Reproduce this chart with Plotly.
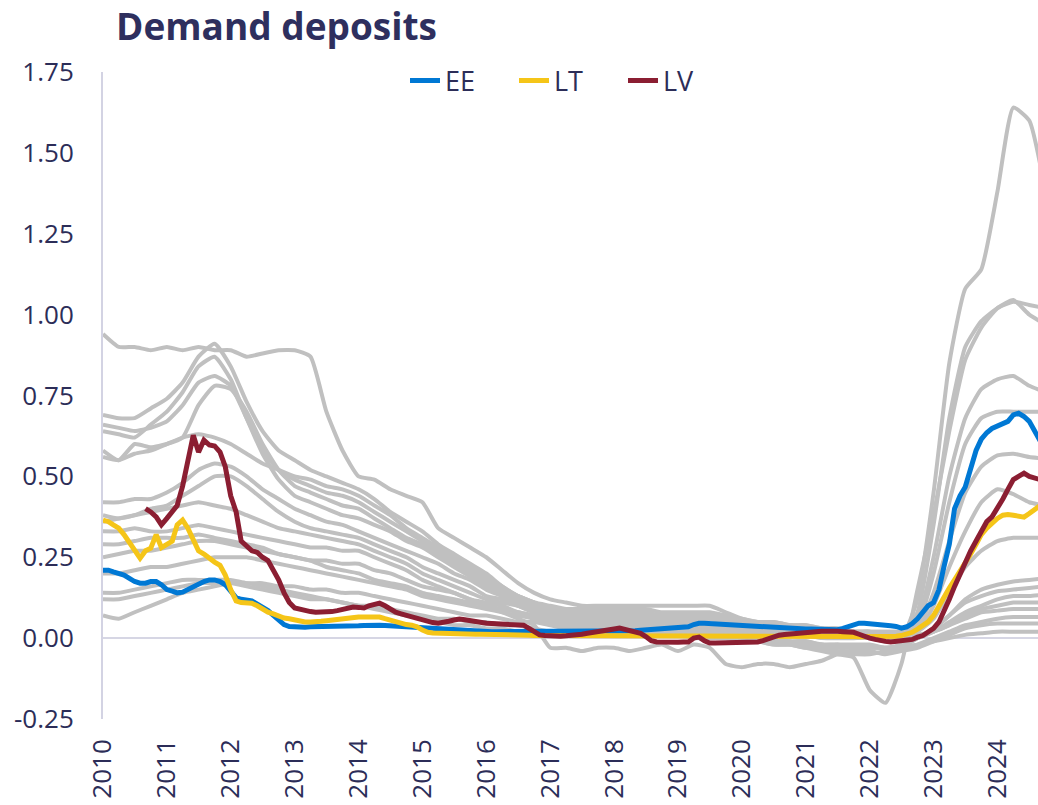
import plotly.graph_objects as go
import pandas as pd

# ---------------- data ----------------
months = pd.date_range("2010-01-01", "2024-09-01", freq="MS")      # 177 monthly points
quarters = pd.date_range("2010-01-01", periods=60, freq="QS")      # 60 quarterly points

years = list(range(2010, 2025))
year_labels = [str(y) for y in years]
y_ticks = [-0.25, 0.0, 0.25, 0.5, 0.75, 1.0, 1.25, 1.5, 1.75]
y_tick_labels = ["-0.25", "0.00", "0.25", "0.50", "0.75", "1.00", "1.25", "1.50", "1.75"]

ee = [
    .21, .21, .205, .20, .195, .185, .175, .17, .17, .175, .175, .165,
    .15, .145, .14, .142, .15, .16, .17, .175, .18, .18, .175, .165,
    .145, .125, .12, .118, .115, .105, .095, .085, .07, .055, .042, .036,
    .034, .034, .034, .035, .035, .035, .036, .036, .037, .037, .038, .038,
    .038, .039, .04, .04, .04, .039, .038, .037, .036, .035, .034, .033,
    .03, .029, .028, .027, .026, .025, .024, .023, .022, .022, .021, .021,
    .02, .02, .02, .02, .02, .02, .02, .02, .02, .02, .02, .02,
    .02, .02, .02, .02, .02, .02, .02, .02, .02, .02, .02, .02,
    .02, .021, .022, .022, .023, .024, .025, .025, .026, .027, .028, .029,
    .03, .031, .035, .042, .046, .046, .045, .044, .043, .04, .039, .038,
    .037, .036, .036, .035, .034, .033, .031, .031, .03, .03, .03, .029,
    .028, .028, .027, .027, .026, .025, .026, .03, .036, .042, .046, .046,
    .045, .043, .041, .04, .038, .036, .031, .035, .045, .06, .08, .10,
    .11, .15, .22, .29, .40, .44, .467, .52, .58, .615, .635, .648,
    .655, .66, .67, .69, .695, .685, .67, .64, .61,
]

lt = [
    .365, .36, .35, .34, .32, .295, .27, .247, .27, .278, .32, .28,
    .29, .30, .35, .365, .34, .30, .27, .26, .245, .235, .225, .195,
    .15, .115, .11, .11, .108, .10, .09, .08, .075, .068, .062, .06,
    .056, .053, .05, .05, .05, .052, .054, .056, .058, .06, .064, .065,
    .065, .065, .065, .066, .065, .06, .055, .05, .045, .042, .04, .035,
    .025, .018, .016, .015, .015, .015, .014, .014, .013, .013, .012, .012,
    .012, .011, .011, .01, .01, .01, .01, .009, .009, .008, .008, .008,
    .007, .007, .007, .006, .006, .006, .006, .006, .005, .005, .005, .005,
    .005, .005, .005, .005, .005, .005, .005, .005, .005, .005, .005, .005,
    .005, .005, .005, .005, .005, .005, .005, .005, .005, .005, .005, .005,
    .005, .005, .005, .005, .005, .005, .005, .005, .005, .005, .005, .005,
    .005, .005, .005, .005, .005, .005, .005, .005, .005, .005, .004, .004,
    .004, .004, .004, .005, .005, .006, .008, .012, .018, .028, .038, .05,
    .07, .10, .13, .155, .18, .205, .23, .26, .29, .32, .34, .355,
    .37, .38, .382, .38, .378, .374, .385, .40, .41,
]

lv = [
    None, None, None, None, None, None, None, None, .40, .39, .375, .35,
    .37, .39, .41, .47, .55, .627, .575, .612, .597, .594, .575, .53,
    .44, .39, .30, .285, .27, .265, .25, .24, .21, .18, .14, .11,
    .093, .088, .085, .082, .08, .08, .08, .082, .085, .088, .092, .096,
    .095, .093, .10, .105, .108, .10, .09, .08, .075, .07, .065, .06,
    .055, .05, .048, .046, .048, .052, .056, .059, .057, .054, .05, .048,
    .046, .045, .044, .043, .044, .044, .042, .04, .03, .018, .01, .008,
    .006, .006, .006, .007, .008, .01, .012, .015, .017, .019, .022, .025,
    .028, .031, .028, .022, .019, .015, .005, -.008, -.012, -.013, -.013, -.013,
    -.013, -.012, -.012, .0, .003, -.008, -.015, -.015, -.015, -.015, -.015, -.014,
    -.013, -.012, -.012, -.012, -.008, -.002, .005, .009, .011, .013, .015, .017,
    .018, .019, .02, .021, .022, .022, .021, .02, .019, .018, .012, .004,
    .0, -.004, -.008, -.01, -.012, -.01, -.007, -.006, -.004, .003, .008, .019,
    .03, .05, .08, .12, .16, .20, .24, .27, .30, .33, .36, .375,
    .40, .43, .46, .49, .50, .51, .50, .495, .49,
]

# other countries (quarterly)
gray_01 = [.94, .90, .90, .89, .90, .89, .90, .89, .89, .87, .88, .89, .89, .87, .70, .58,
           .50, .49, .46, .44, .42, .34, .31, .28, .25, .21, .17, .14, .12, .11, .10, .10,
           .10, .10, .10, .10, .10, .10, .10, .08, .06, .05, .05, .04, .04, .03, .02, .01,
           .00, -.01, -.01, .00, .03, .07, .12, .15, .165, .175, .18, .185]
gray_02 = [.69, .68, .68, .71, .74, .79, .87, .91, .84, .73, .64, .58, .55, .52, .50, .48,
           .46, .43, .39, .36, .33, .29, .26, .23, .20, .16, .13, .11, .09, .08, .08, .08,
           .07, .07, .07, .06, .06, .06, .06, .05, .05, .04, .04, .03, .03, .02, .02, .02,
           .01, .00, .00, .12, .45, .85, 1.08, 1.14, 1.38, 1.64, 1.60, 1.38]
gray_03 = [.66, .65, .64, .65, .67, .72, .79, .81, .78, .68, .58, .52, .49, .47, .45, .44,
           .42, .39, .36, .33, .30, .27, .24, .21, .18, .15, .13, .11, .10, .09, .09, .09,
           .09, .09, .09, .08, .08, .08, .08, .07, .06, .05, .05, .04, .04, .03, .03, .02,
           .02, .01, .01, .08, .35, .68, .90, .98, 1.02, 1.04, 1.03, 1.02]
gray_04 = [.64, .63, .62, .66, .70, .76, .84, .87, .80, .68, .57, .49, .44, .42, .40, .38,
           .37, .35, .33, .30, .28, .25, .22, .19, .16, .13, .10, .08, .07, .06, .06, .05,
           .05, .05, .04, .04, .04, .03, .03, .02, .01, .00, -.01, -.02, -.03, -.04, -.05, -.06,
           -.16, -.20, -.08, .15, .38, .64, .86, .96, 1.02, 1.045, 1.00, .97]
gray_05 = [.58, .55, .60, .59, .60, .62, .72, .78, .77, .70, .60, .52, .47, .45, .43, .41,
           .40, .37, .34, .31, .29, .26, .23, .20, .17, .14, .12, .10, .09, .09, .08, .08,
           .08, .08, .08, .07, .07, .07, .07, .06, .05, .05, .04, .04, .03, .03, .02, .02,
           .01, .01, .00, .05, .25, .50, .68, .77, .80, .81, .78, .76]
gray_06 = [.56, .55, .57, .58, .60, .62, .63, .62, .60, .57, .54, .52, .50, .49, .47, .46,
           .44, .41, .38, .34, .31, .28, .25, .22, .19, .16, .13, .11, .08, .08, .08, .08,
           .07, .07, .07, .07, .07, .06, .06, .06, .05, .05, .04, .04, .03, .03, .03, .02,
           .02, .01, .01, .04, .20, .42, .60, .68, .70, .70, .70, .70]
gray_07 = [.42, .42, .43, .43, .45, .48, .52, .54, .53, .50, .46, .43, .40, .38, .36, .35,
           .33, .31, .29, .27, .25, .23, .20, .18, .15, .13, .11, .09, .08, .07, .07, .07,
           .06, .06, .06, .06, .06, .06, .06, .05, .05, .04, .04, .03, .03, .03, .02, .02,
           .02, .02, .02, .03, .14, .30, .45, .53, .565, .57, .56, .555]
gray_08 = [.38, .37, .38, .40, .41, .44, .47, .50, .50, .47, .43, .39, .36, .34, .33, .32,
           .31, .29, .27, .25, .22, .20, .18, .16, .13, .12, .10, .09, .07, .07, .06, .06,
           .06, .05, .05, .05, .05, .05, .04, .04, .04, .03, .03, .03, .02, .02, .02, .02,
           .02, .02, .02, .02, .10, .22, .33, .42, .46, .445, .42, .41]
gray_09 = [.36, .37, .38, .39, .40, .41, .42, .41, .40, .38, .36, .34, .33, .32, .31, .30,
           .29, .27, .25, .23, .20, .18, .16, .14, .12, .11, .10, .08, .06, .06, .06, .05,
           .05, .05, .04, .04, .04, .04, .04, .03, .03, .03, .02, .02, .02, .02, .01, .01,
           .01, .01, .01, .02, .06, .14, .22, .27, .30, .31, .31, .31]
gray_10 = [.33, .33, .34, .33, .33, .34, .35, .34, .33, .32, .31, .30, .29, .28, .28, .27,
           .27, .25, .23, .21, .18, .16, .14, .12, .10, .08, .06, .04, -.03, -.03, -.04, -.03,
           -.03, -.04, -.03, -.02, -.04, -.02, -.03, -.08, -.09, -.08, -.08, -.09, -.08, -.07, -.05, -.05,
           -.05, -.04, -.03, .00, .03, .07, .11, .13, .145, .15, .155, .16]
gray_11 = [.29, .29, .30, .31, .31, .31, .32, .31, .30, .29, .28, .26, .25, .24, .24, .23,
           .23, .21, .20, .18, .16, .15, .14, .12, .11, .10, .08, .07, .06, .05, .05, .05,
           .04, .04, .04, .04, .04, .03, .03, .03, .02, .02, .01, .01, .01, .00, .00, .00,
           .00, -.01, -.01, .00, .02, .05, .08, .10, .12, .13, .13, .135]
gray_12 = [.25, .26, .27, .27, .28, .29, .30, .30, .29, .28, .27, .26, .25, .24, .22, .21,
           .20, .18, .17, .16, .14, .13, .12, .11, .10, .09, .08, .07, .06, .05, .05, .05,
           .05, .05, .04, .04, .04, .04, .04, .03, .03, .02, .02, .02, .01, .01, .01, .01,
           .00, .00, .00, .01, .02, .04, .07, .09, .10, .11, .11, .11]
gray_13 = [.20, .20, .21, .22, .22, .23, .24, .25, .25, .25, .24, .23, .22, .21, .20, .19,
           .18, .17, .16, .15, .13, .12, .11, .10, .09, .08, .07, .06, .05, .04, .04, .04,
           .04, .03, .03, .03, .03, .03, .02, .02, .02, .01, .00, -.01, -.01, -.02, -.02, -.03,
           -.03, -.03, -.02, .00, .02, .04, .06, .08, .085, .09, .09, .09]
gray_14 = [.14, .14, .15, .16, .17, .18, .18, .18, .18, .17, .17, .16, .16, .15, .15, .14,
           .14, .13, .12, .11, .10, .09, .08, .07, .07, .06, .05, .05, .04, .03, .03, .03,
           .03, .03, .02, .02, .02, .02, .02, .01, .01, .00, .00, -.01, -.01, -.02, -.02, -.02,
           -.02, -.03, -.03, -.02, .00, .02, .04, .05, .06, .065, .065, .065]
gray_15 = [.12, .12, .13, .14, .15, .16, .17, .17, .17, .16, .15, .14, .13, .12, .12, .11,
           .10, .10, .09, .08, .07, .06, .06, .05, .05, .04, .04, .03, .02, .02, .02, .02,
           .02, .02, .01, .01, .01, .01, .01, .01, .00, -.01, -.02, -.02, -.03, -.03, -.04, -.04,
           -.04, -.05, -.04, -.03, -.01, .01, .03, .04, .045, .045, .045, .045]
gray_16 = [.07, .06, .08, .10, .12, .14, .15, .16, .17, .17, .16, .15, .14, .13, .12, .11,
           .10, .09, .08, .07, .06, .05, .04, .04, .03, .03, .02, .02, .02, .01, .01, .01,
           .01, .01, .01, .01, .01, .00, .00, .00, -.01, -.01, -.02, -.02, -.02, -.02, -.03, -.03,
           -.03, -.03, -.03, -.02, -.01, .00, .01, .015, .02, .02, .02, .02]

gray_series = [gray_01, gray_02, gray_03, gray_04, gray_05, gray_06, gray_07, gray_08,
               gray_09, gray_10, gray_11, gray_12, gray_13, gray_14, gray_15, gray_16]

highlight = [("EE", ee, "#0078d4"), ("LT", lt, "#f5c518"), ("LV", lv, "#8b1e32")]

# ---------------- styling ----------------
TEXT = "#2c2d58"
GRAY = "#c0c0c0"
FONT = "Open Sans"

fig = go.Figure()

for vals in gray_series:
    fig.add_trace(go.Scatter(
        x=quarters, y=vals, mode="lines",
        line=dict(color=GRAY, width=4, shape="spline", smoothing=0.5),
        showlegend=False, hoverinfo="skip",
    ))

for name, vals, col in highlight:
    fig.add_trace(go.Scatter(
        x=months, y=vals, mode="lines", name=name,
        line=dict(color=col, width=5), connectgaps=False,
    ))

fig.update_layout(
    width=1038, height=805,
    margin=dict(l=103, r=0, t=72, b=86),
    paper_bgcolor="white", plot_bgcolor="white",
    font=dict(family=FONT, color=TEXT, size=26),
    title=dict(
        text="<b>Demand deposits</b>",
        font=dict(family=FONT, size=37, color="#2e2f5e"),
        xref="container", yref="container",
        x=116 / 1038, xanchor="left",
        y=1 - 27 / 805, yanchor="middle",
    ),
    legend=dict(
        orientation="h",
        x=(405 - 103) / 935, xanchor="left",
        y=(719 - 81) / 647, yanchor="middle",
        font=dict(family=FONT, size=27, color=TEXT),
        bgcolor="rgba(0,0,0,0)",
        entrywidth=64, entrywidthmode="pixels",
        itemwidth=30,
    ),
    showlegend=True,
)

fig.update_xaxes(
    range=["2010-01-01", "2024-08-20"],
    tickmode="array",
    tickvals=[f"{y}-01-01" for y in years],
    ticktext=year_labels,
    tickangle=-90,
    showgrid=False, showline=False, zeroline=False,
    ticks="", ticklabelstandoff=14,
    tickfont=dict(family=FONT, size=26, color=TEXT),
)

fig.update_yaxes(
    range=[-0.25, 1.75],
    tickmode="array",
    tickvals=y_ticks,
    ticktext=y_tick_labels,
    showgrid=False,
    showline=True, linecolor="#d3d3e3", linewidth=2,
    zeroline=True, zerolinecolor="#d6d6e4", zerolinewidth=2,
    ticks="", ticklabelstandoff=22,
    tickfont=dict(family=FONT, size=26, color=TEXT),
)

fig.write_html(
    "out.html",
    config={"displayModeBar": False},
    post_script="document.body.style.margin='0';document.body.style.overflow='hidden';",
)
